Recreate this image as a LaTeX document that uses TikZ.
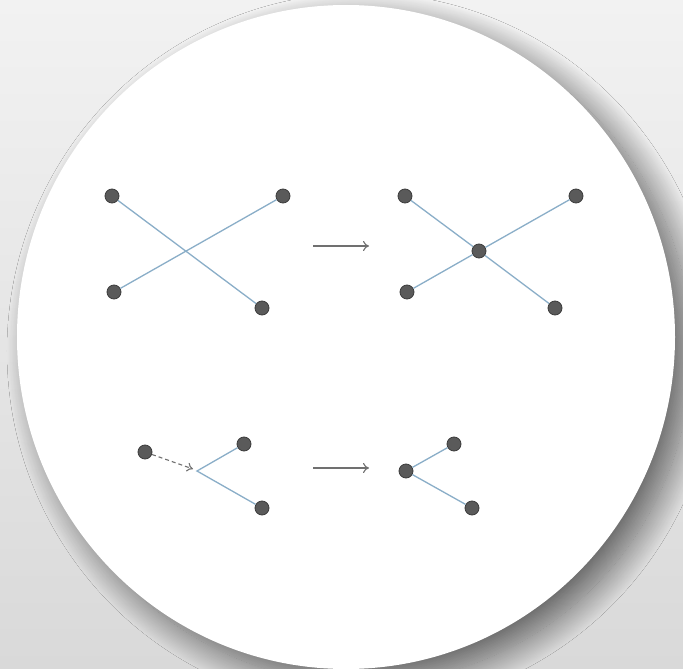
\documentclass[tikz,border=0pt]{standalone}
\usetikzlibrary{shadows.blur,arrows.meta}
\definecolor{bgtop}{HTML}{F2F2F2}
\definecolor{bgbot}{HTML}{D9D9D9}
\definecolor{edgeblue}{HTML}{8AAEC8}
\definecolor{dotfill}{HTML}{5A5A5A}
\definecolor{dotdraw}{HTML}{3C3C3C}
\definecolor{arrowgray}{HTML}{707070}
\tikzset{
  dot/.style={circle,fill=dotfill,draw=dotdraw,line width=0.8pt,minimum size=14pt,inner sep=0pt},
  edge/.style={draw=edgeblue,line width=1.3pt},
  bigarrow/.style={draw=arrowgray,line width=1.1pt,-{To[length=6pt,width=10pt]}},
  dasharrow/.style={draw=arrowgray,line width=1.1pt,dashed,dash pattern=on 4pt off 3pt,-{To[length=6pt,width=9pt]}}
}
\begin{document}
\begin{tikzpicture}[x=1pt,y=-1pt]
\shade[top color=bgtop,bottom color=bgbot] (0,0) rectangle (683,669);
\useasboundingbox (0,0) rectangle (683,669);
\fill[white,blur shadow={shadow xshift=16pt,shadow yshift=-14pt,shadow blur radius=26pt,shadow blur steps=40,shadow opacity=55}] (346,337) ellipse [x radius=329pt,y radius=332pt];
% top left
\node[dot] (a) at (112,196) {};
\node[dot] (b) at (283,196) {};
\node[dot] (c) at (114,292) {};
\node[dot] (d) at (262,308) {};
\draw[edge] (a) -- (d);
\draw[edge] (c) -- (b);
\coordinate (r1s) at (313,246);
\coordinate (r1e) at (369,246);
\draw[bigarrow] (r1s) -- (r1e);
% top right
\node[dot] (e) at (405,196) {};
\node[dot] (f) at (576,196) {};
\node[dot] (g) at (407,292) {};
\node[dot] (h) at (555,308) {};
\node[dot] (m) at (479,251) {};
\draw[edge] (e) -- (m);
\draw[edge] (m) -- (h);
\draw[edge] (g) -- (m);
\draw[edge] (m) -- (f);
% bottom left
\node[dot] (p) at (145,452) {};
\coordinate (v) at (197,471);
\node[dot] (q) at (244,444) {};
\node[dot] (r) at (262,508) {};
\draw[edge] (q) -- (v) -- (r);
\coordinate (pt) at (193,469);
\draw[dasharrow] (p) -- (pt);
\coordinate (r2s) at (313,468);
\coordinate (r2e) at (369,468);
\draw[bigarrow] (r2s) -- (r2e);
% bottom right
\node[dot] (s) at (406,471) {};
\node[dot] (t) at (454,444) {};
\node[dot] (u) at (472,508) {};
\draw[edge] (t) -- (s) -- (u);
\end{tikzpicture}
\end{document}
